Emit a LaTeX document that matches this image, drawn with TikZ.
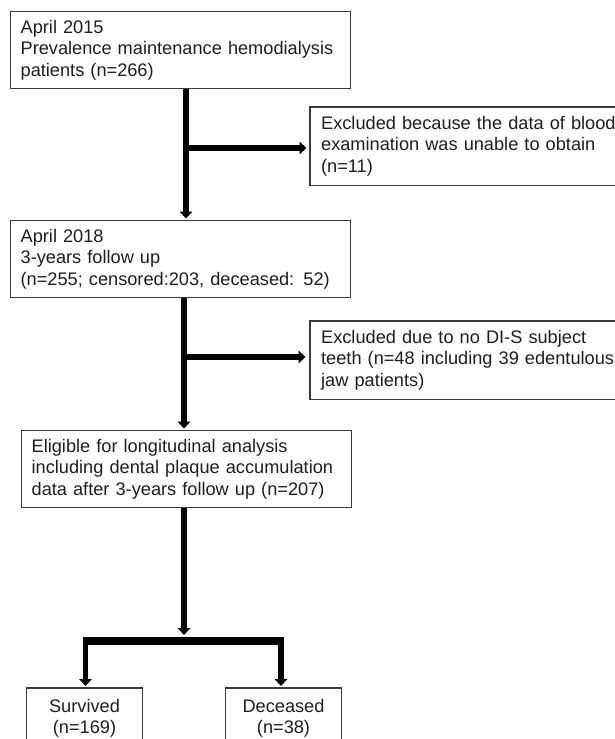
\documentclass[tikz,border=0pt]{standalone}
\usepackage{fontspec}
\setmainfont{Liberation Sans}
\usetikzlibrary{arrows.meta,calc}
\definecolor{bordergray}{HTML}{3A3A3A}
\definecolor{textgray}{HTML}{1E1E1E}
\tikzset{
  box/.style={draw=bordergray, line width=1.3pt, text=textgray,
    font=\fontsize{18.2}{21.7}\selectfont, align=left, anchor=north west,
    inner xsep=10.5pt, inner ysep=0pt, minimum height=77pt},
  openbox/.style={box, draw=none},
  botbox/.style={draw=none, text=textgray,
    font=\fontsize{18.2}{21.7}\selectfont, align=center, anchor=north,
    inner xsep=0pt, inner ysep=0pt, text width=115pt, minimum height=60pt},
  border/.style={draw=bordergray, line width=1.3pt},
  arr/.style={draw=black, line width=6.5pt, -{Triangle[width=12.5pt,length=7pt]}},
  droparr/.style={draw=black, line width=5.7pt, -{Triangle[width=12.5pt,length=7pt]}},
  bar/.style={draw=black, line width=7.7pt}
}
\begin{document}
\begin{tikzpicture}[x=1pt,y=-1pt]
\useasboundingbox (0,0) rectangle (615,739);
\coordinate (edgeR) at (615.5,0);
\coordinate (edgeB) at (0,739.5);
\coordinate (t1) at (186,0);
\coordinate (t2) at (184,0);

\node[box, text width=319.5pt] (b1) at (9.5,11)
  {April 2015\\Prevalence maintenance hemodialysis\\patients (n=266)};
\node[openbox, text width=295pt] (ex1) at (310,107)
  {Excluded because the data of blood\\examination was unable to obtain\\(n=11)};
\draw[border] (ex1.north west -| edgeR) -- (ex1.north west) -- (ex1.south west) -- (ex1.south west -| edgeR);

\node[box, text width=319.5pt] (b2) at (9.5,220)
  {April 2018\\3-years follow up\\(n=255; censored:203, deceased: 52)};
\node[openbox, text width=295pt] (ex2) at (310,321)
  {Excluded due to no DI-S subject\\teeth (n=48 including 39 edentulous\\jaw patients)};
\draw[border] (ex2.north west -| edgeR) -- (ex2.north west) -- (ex2.south west) -- (ex2.south west -| edgeR);

\node[box, text width=309pt] (elig) at (20.5,430)
  {Eligible for longitudinal analysis\\including dental plaque accumulation\\data after 3-years follow up (n=207)};

\node[botbox] (surv) at (84.5,688) {Survived\\(n=169)};
\draw[border] (surv.north west |- edgeB) -- (surv.north west) -- (surv.north east) -- (surv.north east |- edgeB);
\node[botbox] (dec) at (283.5,688) {Deceased\\(n=38)};
\draw[border] (dec.north west |- edgeB) -- (dec.north west) -- (dec.north east) -- (dec.north east |- edgeB);

% connectors
\coordinate (j1) at (186,148);
\coordinate (j2) at (184,357);
\coordinate (barL) at (85.5,641);
\coordinate (barR) at (281,641);

\draw[arr, shorten >=1.5pt] (b1.south -| t1) -- (b2.north -| t1);
\draw[arr, shorten >=3.5pt] (j1) -- (j1 -| ex1.west);
\draw[arr, shorten >=1.5pt] (b2.south -| t2) -- (elig.north -| t2);
\draw[arr, shorten >=4.5pt] (j2) -- (j2 -| ex2.west);
\draw[arr, shorten >=6pt] (elig.south -| t2) -- (t2 |- barL);
\draw[bar] ([xshift=-2.85pt]barL) -- ([xshift=2.85pt]barR);
\draw[droparr, shorten >=2pt] (barL) -- (barL |- surv.north);
\draw[droparr, shorten >=2pt] (barR) -- (barR |- dec.north);
\end{tikzpicture}
\end{document}
